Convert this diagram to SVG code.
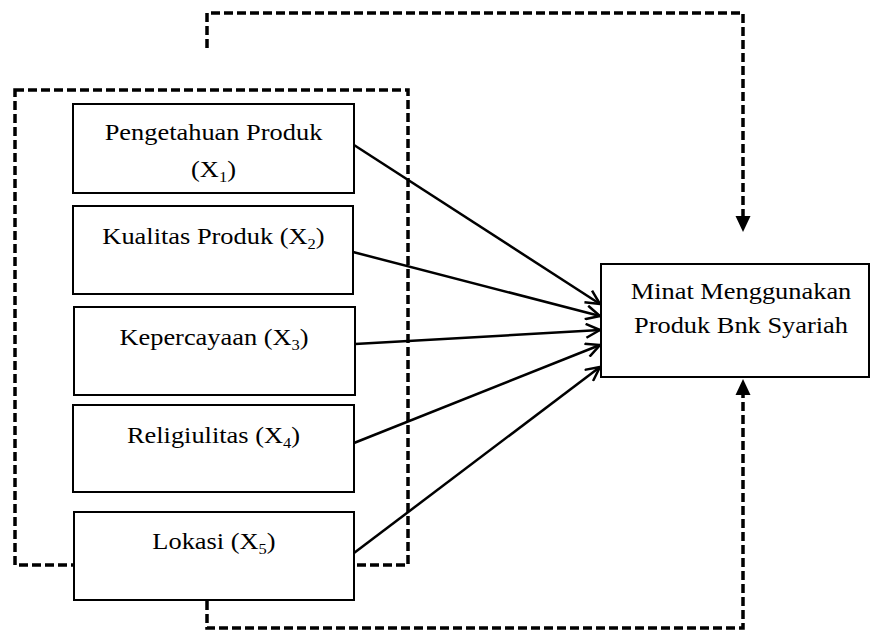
<svg xmlns="http://www.w3.org/2000/svg" width="870" height="630" viewBox="0 0 870 630">
<style>
.box{fill:#fff;stroke:#000;stroke-width:2}
.dash{fill:none;stroke:#000;stroke-width:3.5;stroke-dasharray:9 4}
.arr{fill:none;stroke:#000;stroke-width:2.5}
.t{font-family:"Liberation Serif","Times New Roman",serif;font-size:24px;fill:#000;text-anchor:middle}
.sub{font-size:15px}
</style>
<defs>
<marker id="open" viewBox="0 0 16 16" refX="15" refY="8" markerWidth="16" markerHeight="16" markerUnits="userSpaceOnUse" orient="auto">
<path d="M1,1 L15,8 L1,15" fill="none" stroke="#000" stroke-width="2.5"/>
</marker>
</defs>
<rect width="870" height="630" fill="#fff"/>
<g id="frame">
<rect class="dash" x="15" y="90" width="393" height="475"/>
</g>
<g id="connectors">
<path class="dash" d="M207,48 V13 H743 V217"/>
<polygon points="735.5,216 750.5,216 743,232" fill="#000"/>
<path class="dash" d="M207,601 V628 H743 V395"/>
<polygon points="735.5,395 750.5,395 743,379" fill="#000"/>
</g>
<g id="n1">
<rect class="box" x="73" y="104" width="281" height="89"/>
<text class="t" transform="translate(213.5,140) scale(1.1,1)">Pengetahuan Produk</text>
<text class="t" transform="translate(213.5,177) scale(1.1,1)">(X<tspan class="sub" dy="5">1</tspan><tspan dy="-5">)</tspan></text>
</g>
<g id="n2">
<rect class="box" x="73" y="206" width="280" height="88"/>
<text class="t" transform="translate(213.5,244) scale(1.1,1)">Kualitas Produk (X<tspan class="sub" dy="5">2</tspan><tspan dy="-5">)</tspan></text>
</g>
<g id="n3">
<rect class="box" x="74" y="307" width="281" height="88"/>
<text class="t" transform="translate(214,345) scale(1.1,1)">Kepercayaan (X<tspan class="sub" dy="5">3</tspan><tspan dy="-5">)</tspan></text>
</g>
<g id="n4">
<rect class="box" x="73" y="405" width="281" height="87"/>
<text class="t" transform="translate(213.5,443) scale(1.1,1)">Religiulitas (X<tspan class="sub" dy="5">4</tspan><tspan dy="-5">)</tspan></text>
</g>
<g id="n5">
<rect class="box" x="74" y="512" width="280" height="88"/>
<text class="t" transform="translate(214,549) scale(1.1,1)">Lokasi (X<tspan class="sub" dy="5">5</tspan><tspan dy="-5">)</tspan></text>
</g>
<g id="ny">
<rect class="box" x="601" y="264" width="268" height="113"/>
<text class="t" transform="translate(741,299) scale(1.1,1)">Minat Menggunakan</text>
<text class="t" transform="translate(741,333) scale(1.1,1)">Produk Bnk Syariah</text>
</g>
<g id="arrows">
<line class="arr" x1="354" y1="145" x2="600" y2="304" marker-end="url(#open)"/>
<line class="arr" x1="353" y1="252" x2="600" y2="316" marker-end="url(#open)"/>
<line class="arr" x1="355" y1="344" x2="600" y2="330" marker-end="url(#open)"/>
<line class="arr" x1="354" y1="443" x2="600" y2="345" marker-end="url(#open)"/>
<line class="arr" x1="354" y1="553" x2="600" y2="367" marker-end="url(#open)"/>
</g>
</svg>
